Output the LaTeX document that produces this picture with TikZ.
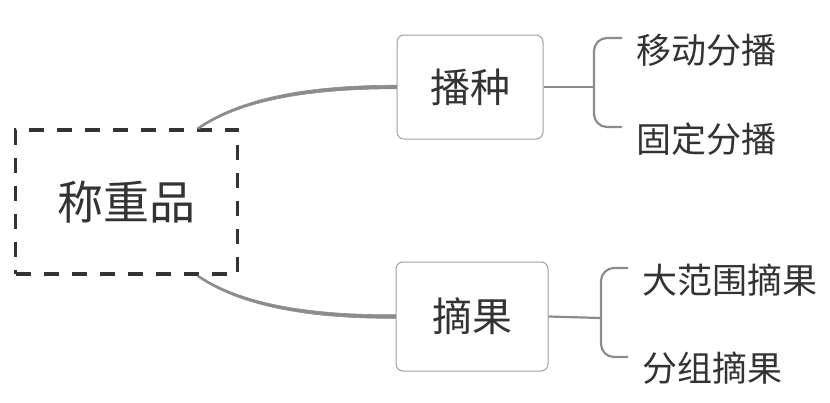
\documentclass[tikz,border=0pt]{standalone}
\usepackage{fontspec}
\setmainfont{Noto Sans CJK SC}
\usetikzlibrary{calc}
\definecolor{txt}{HTML}{333333}
\definecolor{lnk}{HTML}{8C8C8C}
\definecolor{bord}{HTML}{A0A0A0}
\begin{document}
\begin{tikzpicture}[x=1pt,y=-1pt,
  rootbox/.style={draw=txt,line width=3.2pt,dash pattern=on 15pt off 13pt,minimum width=222pt,minimum height=144pt,inner sep=0pt,text=txt,font=\fontsize{46}{50}\selectfont},
  childbox/.style={draw=bord,line width=1pt,rounded corners=7pt,inner sep=0pt,text=txt,font=\fontsize{40}{44}\selectfont},
  leaf/.style={anchor=west,inner sep=0pt,text=txt,font=\fontsize{35}{40}\selectfont},
  mainlink/.style={fill=lnk,draw=lnk,line width=0.6pt},
  bracelink/.style={draw=lnk,line width=2.2pt}]
\useasboundingbox (0,0) rectangle (830,402);
\node[rootbox] (root) at (126.5,202) {称重品};
\node[childbox,minimum width=146pt,minimum height=104pt] (a) at (470,87) {播种};
\node[childbox,minimum width=152pt,minimum height=109pt] (b) at (472,316.5) {摘果};
\node[leaf] (a1) at (636,50) {移动分播};
\node[leaf] (a2) at (636,139) {固定分播};
\node[leaf] (b1) at (642,280) {大范围摘果};
\node[leaf] (b2) at (642,368) {分组摘果};
\coordinate (rs1) at (198,128.5);
\coordinate (rs2) at (198,276);
% tapered main links
\path[mainlink] ($(rs1)+(-0.8,-0.6)$) .. controls (245,94.5) and (320,85.2) .. ($(a.west)+(0,-1.8)$)
  -- ($(a.west)+(0,1.8)$) .. controls (320,88.8) and (245,97.5) .. ($(rs1)+(0.8,0.6)$) -- cycle;
\path[mainlink] ($(rs2)+(-0.8,0.6)$) .. controls (245,309.5) and (320,318.8) .. ($(b.west)+(0,1.8)$)
  -- ($(b.west)+(0,-1.8)$) .. controls (320,315.2) and (245,306.5) .. ($(rs2)+(0.8,-0.6)$) -- cycle;
% brace for a
\coordinate (ja) at (594,87);
\draw[bracelink] (a.east) -- (ja);
\draw[bracelink,rounded corners=13pt] ($(a1.west)+(-14,-12)$) -- (594,38) -- (ja) -- (594,127) -- ($(a2.west)+(-14,-12)$);
% brace for b
\coordinate (jb) at (601,318);
\draw[bracelink] (b.east) -- (jb);
\draw[bracelink,rounded corners=13pt] ($(b1.west)+(-14,-12)$) -- (601,268) -- (jb) -- (601,357) -- ($(b2.west)+(-14,-11)$);
\end{tikzpicture}
\end{document}
